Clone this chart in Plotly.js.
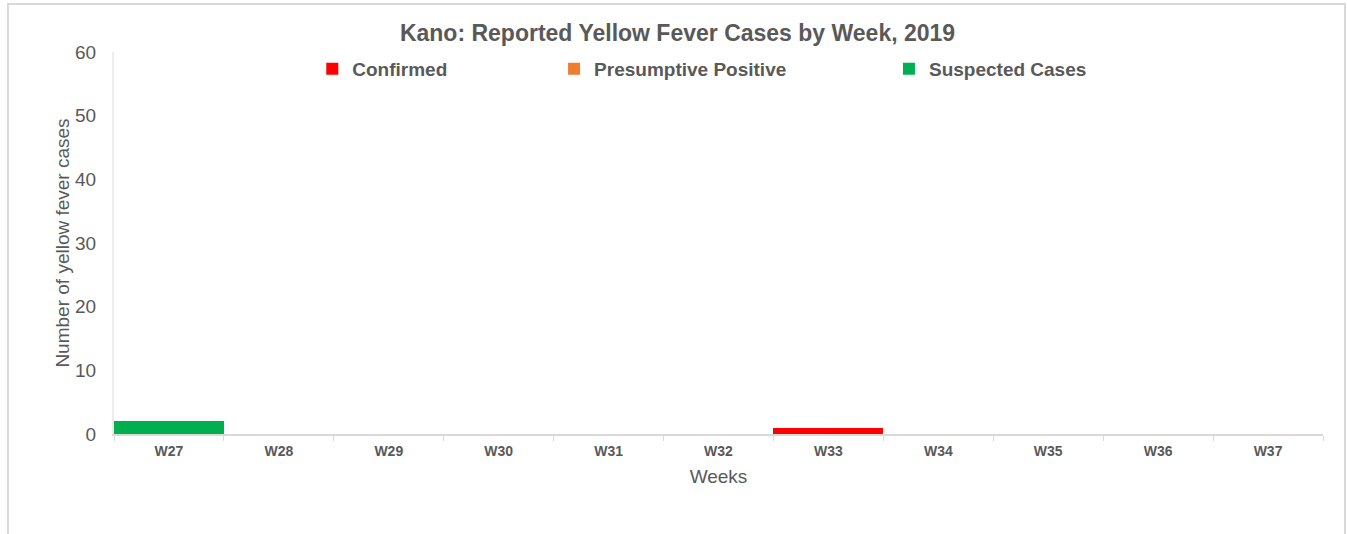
<!DOCTYPE html>
<html>
<head>
<meta charset="utf-8">
<script src="https://cdn.plot.ly/plotly-3.0.1.min.js"></script>
<style>
  html, body { margin: 0; padding: 0; background: #fff; }
  #chart { width: 1347px; height: 534px; }
</style>
</head>
<body>
<div id="chart"></div>
<script>
const weeks = ['W27', 'W28', 'W29', 'W30', 'W31', 'W32', 'W33', 'W34', 'W35', 'W36', 'W37'];
const confirmed = [0, 0, 0, 0, 0, 0, 1, 0, 0, 0, 0];
const presumptive = [0, 0, 0, 0, 0, 0, 0, 0, 0, 0, 0];
const suspected = [2, 0, 0, 0, 0, 0, 0, 0, 0, 0, 0];

const textColor = '#595959';
const lineColor = '#d9d9d9';
const fontFamily = 'Liberation Sans, Arial, sans-serif';

const series = [
  { name: 'Confirmed', y: confirmed, color: '#ff0000', legend: 'legend' },
  { name: 'Presumptive Positive', y: presumptive, color: '#ed7d31', legend: 'legend2' },
  { name: 'Suspected Cases', y: suspected, color: '#00b050', legend: 'legend3' },
];

const traces = series.map((s) => ({
  x: weeks,
  y: s.y,
  name: s.name,
  type: 'bar',
  marker: { color: s.color, line: { width: 0 } },
  legend: s.legend,
  hovertemplate: `${s.name}<br>%{x}: %{y}<extra></extra>`,
}));

const legendBase = {
  orientation: 'h',
  xanchor: 'left',
  yanchor: 'middle',
  y: 0.956,
  bgcolor: 'rgba(0,0,0,0)',
  font: { family: fontFamily, size: 19, color: textColor, weight: 'bold' },
  itemwidth: 30,
};

const layout = {
  title: {
    text: '<b>Kano: Reported Yellow Fever Cases by Week, 2019</b>',
    font: { family: fontFamily, size: 23, color: textColor },
    x: 0.503,
    xref: 'container',
    y: 0.938,
    yref: 'container',
    yanchor: 'middle',
  },
  barmode: 'stack',
  bargap: 0,
  margin: { l: 114, r: 24, t: 52, b: 100 },
  xaxis: {
    title: { text: 'Weeks', font: { family: fontFamily, size: 19, color: textColor }, standoff: 12 },
    tickfont: { family: fontFamily, size: 14, color: textColor, weight: 'bold' },
    showline: true,
    linecolor: lineColor,
    linewidth: 2,
    ticks: 'outside',
    tickson: 'boundaries',
    ticklen: 5,
    tickcolor: lineColor,
    ticklabelstandoff: 3,
    showgrid: false,
    zeroline: false,
  },
  yaxis: {
    title: { text: 'Number of yellow fever cases', font: { family: fontFamily, size: 19, color: textColor }, standoff: 0 },
    range: [0, 60],
    dtick: 10,
    tickfont: { family: fontFamily, size: 19, color: textColor },
    showline: true,
    linecolor: '#ececec',
    linewidth: 2,
    showgrid: false,
    zeroline: false,
    ticks: '',
    ticklabelstandoff: 12,
  },
  showlegend: true,
  legend: Object.assign({}, legendBase, { x: 0.164 }),
  legend2: Object.assign({}, legendBase, { x: 0.364 }),
  legend3: Object.assign({}, legendBase, { x: 0.641 }),
  shapes: [
    {
      type: 'rect',
      xref: 'paper',
      yref: 'paper',
      x0: -0.0877,
      x1: 1.0182,
      y0: -0.35,
      y1: 1.1257,
      line: { color: lineColor, width: 2 },
      layer: 'below',
    },
  ],
  plot_bgcolor: '#ffffff',
  paper_bgcolor: '#ffffff',
  width: 1347,
  height: 534,
};

Plotly.newPlot('chart', traces, layout, { displayModeBar: false, staticPlot: true });
</script>
</body>
</html>
